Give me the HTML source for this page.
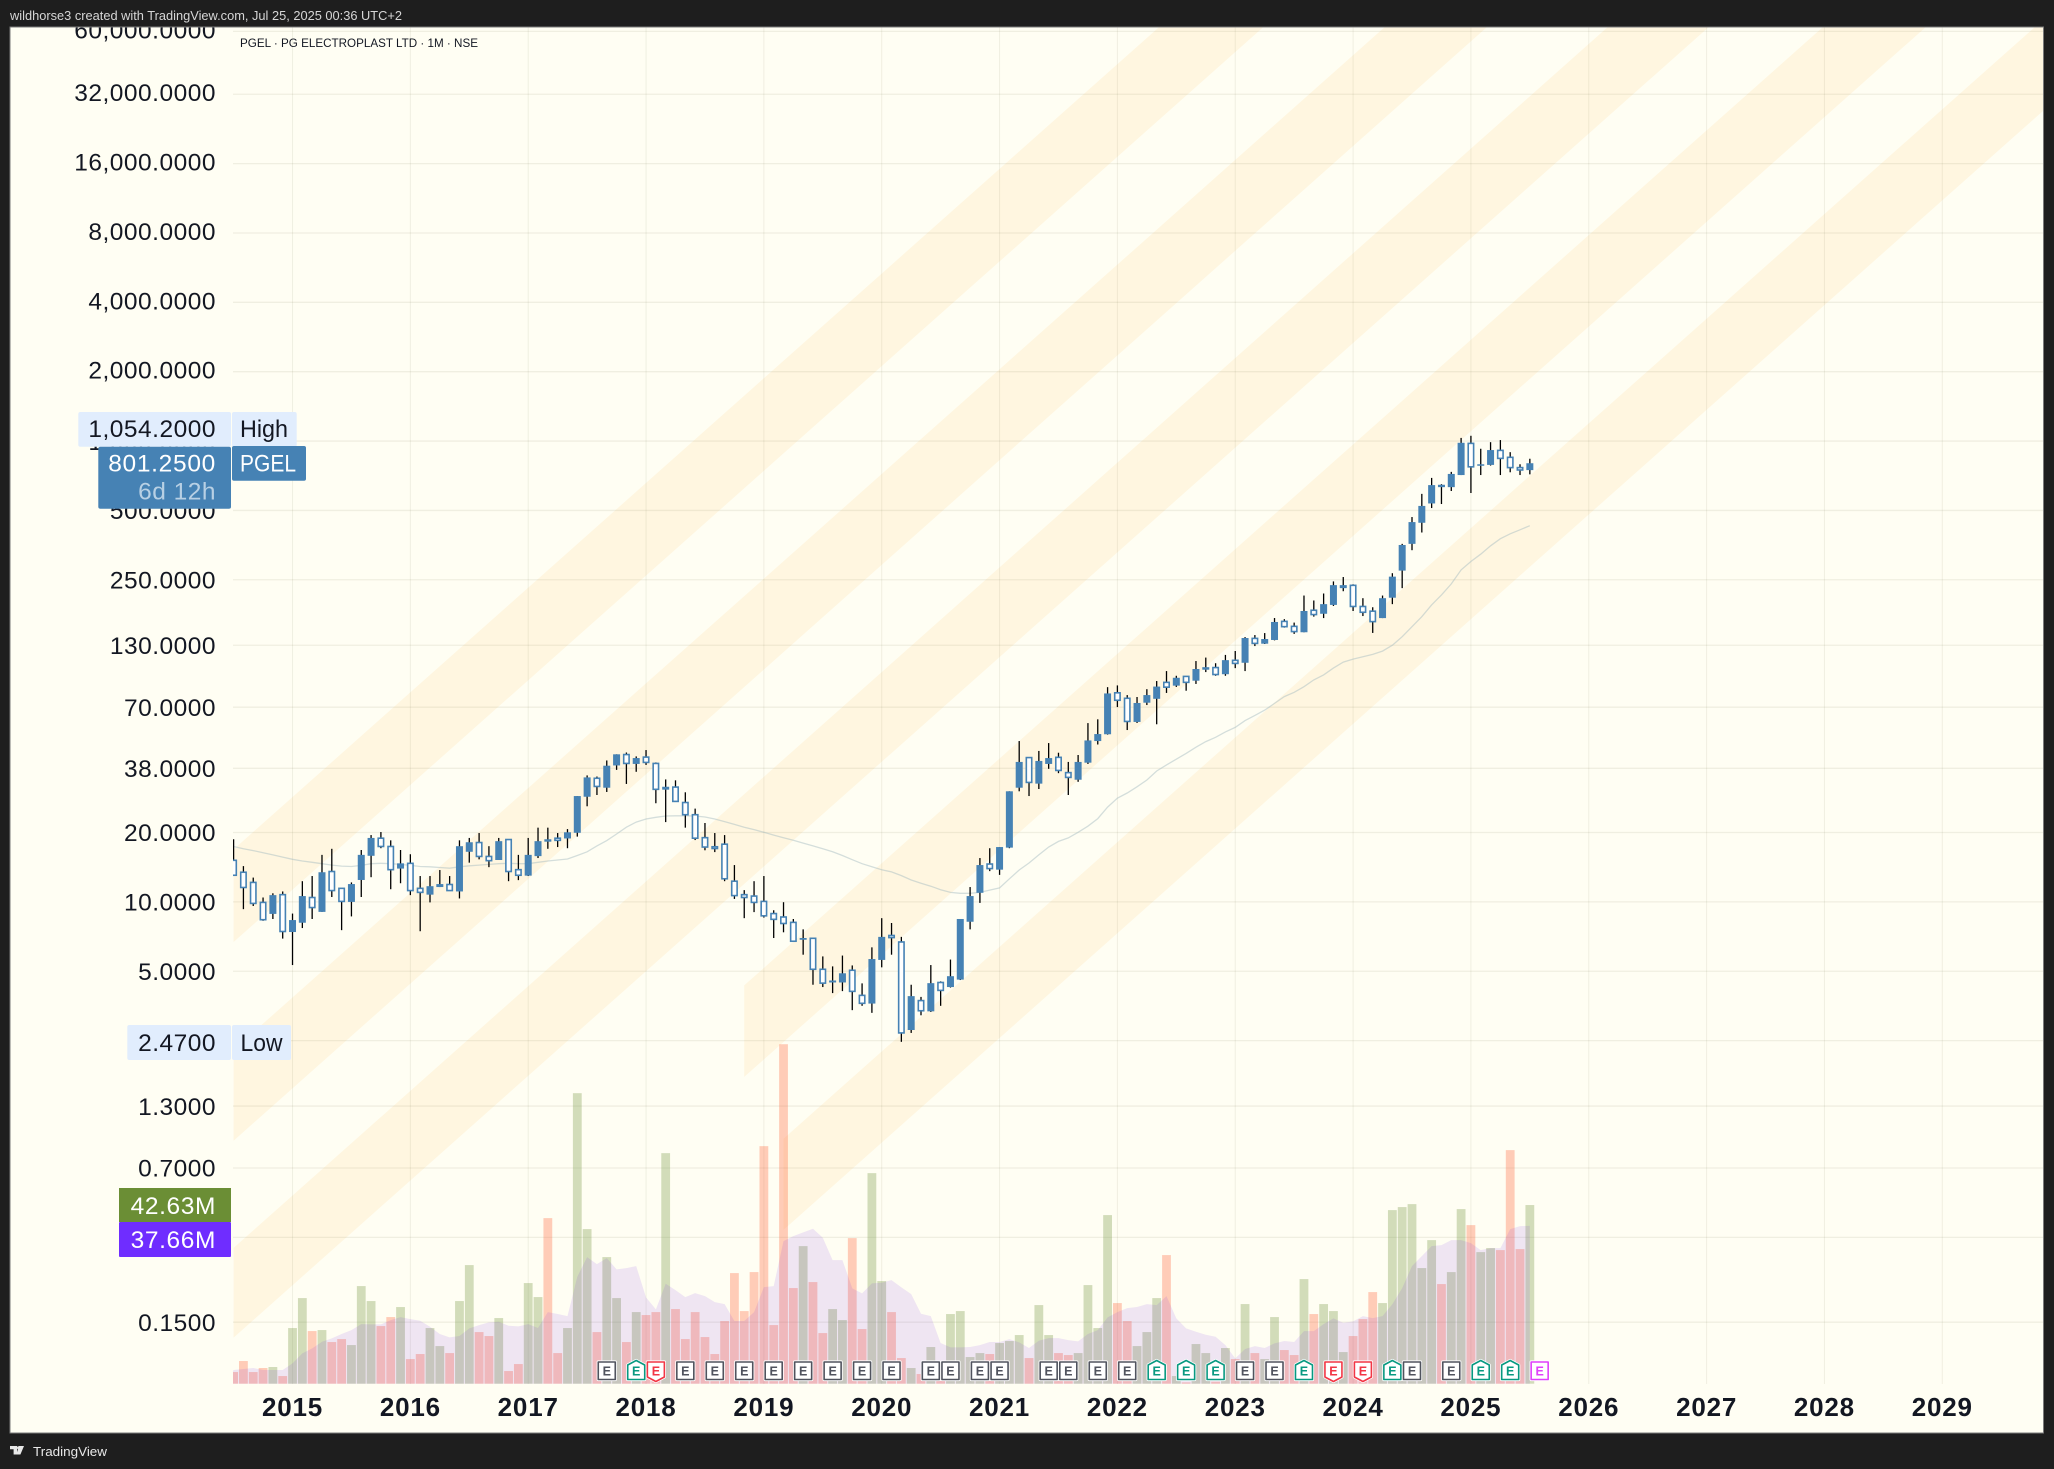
<!DOCTYPE html>
<html lang="en">
<head>
<meta charset="utf-8">
<title>PGEL monthly log chart</title>
<style>
html,body{margin:0;padding:0;background:#1e1e1e;width:2054px;height:1469px;overflow:hidden}
svg{display:block;font-family:"Liberation Sans",sans-serif}
</style>
</head>
<body>
<svg id="chart" xmlns="http://www.w3.org/2000/svg" width="2054" height="1469" viewBox="0 0 2054 1469">
  <defs>
    <clipPath id="paneClip"><rect x="233" y="27.5" width="1810" height="1356.5"/></clipPath>
    <clipPath id="frameClip"><rect x="10" y="27.5" width="2033" height="1405.5"/></clipPath>
  </defs>
  <rect x="0" y="0" width="2054" height="1469" fill="#1e1e1e"/>
  <text x="10" y="20" font-size="12.6" fill="#d6d6d6" textLength="392" lengthAdjust="spacingAndGlyphs">wildhorse3 created with TradingView.com, Jul 25, 2025 00:36 UTC+2</text>
  <rect x="10" y="27" width="2033.5" height="1406" fill="#fffef3" stroke="#7a7a7a" stroke-width="1"/>
  <g id="bandsLayer" clip-path="url(#paneClip)"></g>
  <g id="gridLayer" clip-path="url(#paneClip)"></g>
  <g id="volumeLayer" clip-path="url(#paneClip)"></g>
  <g id="volumeMaLayer" clip-path="url(#paneClip)"></g>
  <g id="maLayer" clip-path="url(#paneClip)"></g>
  <g id="candleLayer" clip-path="url(#paneClip)"></g>
  <g id="earningsLayer"></g>
  <g id="priceAxis" clip-path="url(#frameClip)"></g>
  <g id="timeAxis"></g>
  <text x="240" y="47" font-size="12" fill="#131722" textLength="238" lengthAdjust="spacingAndGlyphs">PGEL · PG ELECTROPLAST LTD · 1M · NSE</text>

  <g>
    <rect x="78.3" y="412" width="152.7" height="34.7" rx="2" fill="#e1edfd"/>
    <text x="216" y="437" text-anchor="end" font-size="24.5" letter-spacing="0.5" fill="#131722">1,054.2000</text>
    <rect x="232" y="412" width="64.7" height="34.7" rx="2" fill="#e1edfd"/>
    <text x="240" y="437" font-size="24.5" fill="#131722" textLength="48" lengthAdjust="spacingAndGlyphs">High</text>
  </g>
  <g>
    <rect x="98.3" y="446.7" width="132.7" height="62" rx="2" fill="#4682b4"/>
    <text x="216" y="471.5" text-anchor="end" font-size="24.5" letter-spacing="0.7" fill="#ffffff">801.2500</text>
    <text x="216" y="499.5" text-anchor="end" font-size="24.5" letter-spacing="0.5" fill="#b8d0e4">6d 12h</text>
    <rect x="232" y="446" width="74" height="34.7" rx="2" fill="#4682b4"/>
    <text x="240" y="471.5" font-size="24.5" fill="#ffffff" textLength="56" lengthAdjust="spacingAndGlyphs">PGEL</text>
  </g>
  <g>
    <rect x="127.3" y="1025" width="103.7" height="35" rx="2" fill="#e1edfd"/>
    <text x="216" y="1051" text-anchor="end" font-size="24.5" letter-spacing="0.5" fill="#131722">2.4700</text>
    <rect x="232" y="1025" width="59" height="35" rx="2" fill="#e1edfd"/>
    <text x="240.5" y="1051" font-size="24.5" fill="#131722" textLength="42" lengthAdjust="spacingAndGlyphs">Low</text>
  </g>
  <g>
    <rect x="119" y="1188" width="112" height="34" fill="#6b8e35"/>
    <text x="216" y="1214" text-anchor="end" font-size="24.5" letter-spacing="0.6" fill="#ffffff">42.63M</text>
  </g>
  <g>
    <rect x="119" y="1222" width="112" height="35" rx="1" fill="#6f2dff"/>
    <text x="216" y="1248" text-anchor="end" font-size="24.5" letter-spacing="0.6" fill="#ffffff">37.66M</text>
  </g>
  <g>
    <path d="M10 1446h7v8.5h-3.4v-5.2H10z M19 1446h5l-3.6 8.5h-4.2z" fill="#e8e8e8"/>
    <circle cx="18.6" cy="1447.8" r="1.6" fill="#e8e8e8"/>
    <text x="33" y="1456" font-size="13" fill="#e8e8e8" textLength="74" lengthAdjust="spacingAndGlyphs">TradingView</text>
  </g>
</svg>
<script>
// ---- price data, one entry per monthly bar from Jul 2014 to Jul 2025 ----
var opens=[15.15,13.45,12.15,9.95,8.87,10.75,7.4,8.12,10.45,9.05,13.55,11.45,10,12.45,15.85,18.9,17.4,13.95,14.7,11.45,10.75,11.6,11.9,11.1,16.5,18.1,15.75,15.2,18.65,13.8,13,15.8,18.55,18.9,18.85,19.95,28.6,34.4,31.3,39.1,43.6,39.7,42.5,39.9,30.7,31.5,27,23.9,19,17.35,17.8,12.3,10.75,10.6,10.05,8.9,8.6,8.15,6.85,6.95,5.1,4.47,4.47,5.05,3.93,3.62,5.6,7.15,6.7,2.78,3.73,3.35,4.47,4.27,4.6,8.2,10.95,14.6,13.8,17.2,31.3,42.3,32.6,39.7,42.4,36.4,33.9,40.2,49.9,53.4,80.8,76.5,60.4,73.2,76.1,89.7,86.8,95.2,91.2,101.8,104,97.3,111.8,109.1,139.2,132,137,165,157,148,184.4,178,194.5,230,236.5,191.5,182.7,170.5,209,274,358,442,536,641,631,712,977,787,788,911,850,767,748];
var highs=[18.7,14.3,12.75,10.45,10.9,11.1,8.9,12.3,12.95,16,17,11.45,12.15,16.8,19.5,20.1,18.5,16.8,16.1,12.95,12.95,13.75,12.95,18.5,18.95,19.9,17.45,18.95,18.7,16,18.95,21,21,19.9,20.7,28.8,35.4,35,41.1,43.7,44.5,42.8,45.6,40.3,34,33.7,29.9,25.4,22,19.9,19.5,14.45,11.25,12.3,12.95,9.2,9.97,8.43,7.6,6.97,5.8,5.25,5.85,5.3,4.43,6.35,8.5,8.1,7.05,4.37,3.87,5.32,4.52,5.62,8.43,11.6,15.5,17.1,17.3,30.2,49.9,42.5,45.2,48.9,44.4,40.5,43.4,59.7,62,85.5,87,79,77.5,83.8,90.9,100.4,95.8,95.2,111,114.9,108.6,118,122.7,141,143.9,146.8,170.6,168.7,163,213.6,203.3,218,246,257,239,208,190,213.6,267,358,468,590,692,650,735,1032,1054.2,926,989,1010,895,793,838];
var lows=[13,9.3,9.6,8.28,8.43,6.93,5.32,7.7,8.43,9.05,10.5,7.54,8.65,10.5,12.8,17.1,11.35,12.05,10.7,7.46,9.95,11.6,11.2,10.35,14.8,15.3,14.15,15.2,12.3,12.43,12.95,15.5,17,17.3,17.1,19.2,26,29.1,30,37.4,32.5,36.7,39.3,26.8,22.2,27.2,21,18.55,16.75,16.45,12.3,10.3,8.5,9.03,8.55,6.97,7.38,6.75,5.9,4.37,4.27,4.02,4.1,3.39,3.54,3.3,5.2,5.9,2.47,2.7,3.22,3.33,3.54,4.25,4.58,7.6,9.9,13.6,13.1,17.1,30.2,28.8,30.9,37.8,36.2,29.1,33.2,39.7,48.2,53.2,70.1,55.7,59.8,71.5,59,80.7,85.7,82.5,88.3,99.4,95.8,95.8,103.4,100.4,128.9,131.6,136.5,155,145.6,148,173,170.5,192.5,223,183,174,147,170.5,196,230,336,401,512,533,607,712,595,712,783,712,732,712,717];
var closes=[13.05,11.55,9.85,8.37,10.7,7.44,8.34,10.6,9.45,13.45,11.2,10.05,11.95,16,18.95,17.4,13.8,14.7,11.2,11,11.7,11.95,11.2,17.45,18.15,15.75,15.1,18.35,13.55,13.05,16,18.35,18.4,18.5,20.05,28.8,34.7,31.7,39,43.7,39.9,42.1,40.3,30.8,31.6,27.3,23.9,18.9,17.3,17.05,12.6,10.65,10.45,9.95,8.7,8.4,8.06,6.75,6.97,5.1,4.44,4.56,4.9,4.09,3.63,5.65,7.05,7,2.7,3.9,3.37,4.44,4.13,4.76,8.43,10.6,14.45,13.95,17.3,30.2,40.5,33,40.9,42.1,37.2,34.7,40.5,50.2,53.5,80.3,75,60.7,73,79,86,85.5,93.9,89.7,102.5,104.4,97,112,108.4,139.7,132.4,138.3,164,156.5,149,183,176.6,196,237,237,191.5,180.7,164.6,208,258,354,445,523,644,636,720,983,773,793,914,841,767,749,801.25];
var volumes=[2.78,5.41,2.78,3.74,3.98,1.83,13.28,20.43,12.56,12.8,9.94,10.65,9.22,23.29,19.72,13.75,15.9,18.29,5.88,7.08,13.28,8.98,7.31,19.72,28.3,12.32,11.37,15.66,3.02,4.69,24.01,20.67,39.51,7.31,13.28,69.32,36.89,12.32,30.21,20.43,9.94,17.09,16.38,17.09,55.01,17.81,10.65,17.09,11.13,7.08,14.95,26.39,17.33,26.63,56.68,13.99,81,22.82,32.83,24.25,12.08,17.81,15.18,34.74,13.04,50.24,24.49,17.09,6.12,3.74,2.31,8.75,0.72,16.62,17.33,6.36,7.31,7.08,9.7,10.18,11.61,6.12,18.76,11.61,7.31,6.84,7.31,23.53,13.28,40.23,19.24,14.95,8.98,12.32,20.43,30.69,1.83,0.32,9.46,7.31,0.48,8.51,5.88,19,7.31,5.88,15.9,8.03,6.84,24.96,16.62,19,17.33,7.55,11.37,15.42,21.86,19.24,41.42,42.14,42.85,27.59,34.26,23.77,26.63,41.66,37.84,31.4,32.36,31.88,55.73,32.12,42.63];
var volumeAverage=[3.26,3.5,3.74,3.26,3.26,3.26,4.85,7.23,8.43,10.02,10.81,11.85,12.8,14.23,14.15,14.15,15.18,15.9,15.42,15.03,13.59,11.85,11.05,11.37,13.2,13.99,14.63,14.79,13.83,13.67,14.23,13.28,17.09,16.62,16.14,25.52,30.21,28.54,29.97,27.27,27.59,28.06,20.59,17.73,23.85,22.34,20.67,21.62,20.91,19.48,19,14.95,14.95,17.09,23.06,23.29,34.03,35.22,36.09,36.97,34.82,29.49,29.49,22.74,21.54,23.93,24.09,24.72,22.98,21.39,16.7,16.14,9.7,8.67,8.67,8.75,9.22,9.94,9.94,10.65,9.86,8.51,10.26,10.89,10.89,10.41,10.1,11.85,12.8,15.82,17.09,18.05,18.29,19,18.76,20.91,15.58,13.2,12.4,11.69,11.21,9.22,6.04,8.27,8.98,8.51,9.62,10.18,9.94,12.56,12.56,14.23,15.58,14.55,14.87,16.14,15.66,16.14,19,22.82,28.06,30.45,32.83,33.07,34.26,34.26,33.55,31.88,32.36,32.36,36.89,37.6,37.66];
var movingAverage=[17.4,17,16.7,16.35,16,15.65,15.3,15.05,14.85,14.65,14.45,14.3,14.25,14.4,14.65,14.7,14.65,14.55,14.4,14.25,14.2,14.1,14,14.2,14.35,14.45,14.55,14.65,14.7,14.65,14.65,14.85,15.05,15.2,15.35,15.9,16.5,17.5,18.45,19.7,21.1,22.2,22.9,23.3,23.6,23.65,23.65,23.6,23.35,22.9,22.3,21.7,21.1,20.6,20.05,19.5,19,18.5,18,17.5,17,16.5,15.9,15.25,14.65,14.2,13.8,13.5,13,12.45,12.05,11.7,11.3,11,10.9,10.9,11,11.25,11.5,12.6,13.75,14.75,16,17.3,18.3,18.95,20.05,21.3,23,25.8,28.2,29.7,31.6,33.8,37,39.3,41.6,44.1,46.9,49.6,51.8,54.7,57.2,61.2,64.5,68,72.7,77.8,81.2,85.9,91.9,96.6,103.4,109.8,113.2,115.8,118.6,122.6,130,141.6,156.4,172.8,194.5,215,240,276,300,323,351,377,396,412,429];
// ---- earnings events ----
var earningsBars=[38,41,43,46,49,52,55,58,61,64,67,71,73,76,78,83,85,88,91,94,97,100,103,106,109,112,115,118,120,124,127,130,133];
var earningsKinds=['gray','teal','red','gray','gray','gray','gray','gray','gray','gray','gray','gray','gray','gray','gray','gray','gray','gray','gray','teal','teal','teal','gray','gray','teal','red','red','teal','gray','gray','teal','teal','future'];
// ---- axis labels ----
var priceTicks=[60000,32000,16000,8000,4000,2000,1000,500,250,130,70,38,20,10,5,2.5,1.3,0.7,0.35,0.15];
var priceTickLabels=['60,000.0000','32,000.0000','16,000.0000','8,000.0000','4,000.0000','2,000.0000','1,000.0000','500.0000','250.0000','130.0000','70.0000','38.0000','20.0000','10.0000','5.0000','2.5000','1.3000','0.7000','0.3500','0.1500'];
var yearLabels=[2015,2016,2017,2018,2019,2020,2021,2022,2023,2024,2025,2026,2027,2028,2029];
// ---- channel drawing: start bar, prices at the start bar, growth per bar ----
var bandStartBars=[0,0,0,52,56];
var bandUpperPrices=[16.9,2.28,0.315,4.34,0.937];
var bandLowerPrices=[6.7,0.92,0.1285,1.74,0.377];
var bandGrowthPerBar=[1.0911];
var bandEndBar=[200];

var NS='http://www.w3.org/2000/svg';
function xOf(i){return 233.6+9.82*i;}
function yOf(price){return 901.9-100.07*Math.log(price/10);}
function yVol(m){return 1383.7-m/0.2386;}
function yearX(year){return xOf((year-2015)*12+6);}
function make(tag,attrs,parent){
  var e=document.createElementNS(NS,tag);
  for(var k in attrs){e.setAttribute(k,attrs[k]);}
  parent.appendChild(e);
  return e;
}
var bandsLayer=document.getElementById('bandsLayer');
var gridLayer=document.getElementById('gridLayer');
var volumeLayer=document.getElementById('volumeLayer');
var volumeMaLayer=document.getElementById('volumeMaLayer');
var maLayer=document.getElementById('maLayer');
var candleLayer=document.getElementById('candleLayer');
var earningsLayer=document.getElementById('earningsLayer');
var priceAxis=document.getElementById('priceAxis');
var timeAxis=document.getElementById('timeAxis');

// channel bands
bandStartBars.forEach(function(start,b){
  var end=bandEndBar[0];
  var k=Math.pow(bandGrowthPerBar[0],end-start);
  var pts=[[xOf(start),yOf(bandUpperPrices[b])],[xOf(end),yOf(bandUpperPrices[b]*k)],[xOf(end),yOf(bandLowerPrices[b]*k)],[xOf(start),yOf(bandLowerPrices[b])]];
  var p=make('polygon',{points:pts.map(function(q){return q[0].toFixed(1)+','+q[1].toFixed(1);}).join(' '),fill:'#fff6e0'},bandsLayer);
  
  
});

// grid
priceTicks.forEach(function(v){
  var y=yOf(v);
  var l=make('line',{x1:232,x2:2043,y1:y,y2:y,stroke:'rgba(110,110,70,0.10)','stroke-width':1.3},gridLayer);
  
  
});
yearLabels.forEach(function(yr){
  var x=yearX(yr);
  var l=make('line',{x1:x,x2:x,y1:27,y2:1384,stroke:'rgba(110,110,70,0.10)','stroke-width':1},gridLayer);
  
  
});

// volume bars
volumes.forEach(function(m,i){
  var up=closes[i]>=opens[i];
  var top=yVol(m);
  var r=make('rect',{x:xOf(i)-4.4,y:top,width:8.8,height:1383.7-top,fill:up?'rgba(107,142,53,0.30)':'rgba(255,91,46,0.30)'},volumeLayer);
  
  
});

// volume average area
var areaPts=volumeAverage.map(function(m,i){return xOf(i).toFixed(1)+','+yVol(m).toFixed(1);});
areaPts.push(xOf(volumeAverage.length-1).toFixed(1)+',1383.7');
areaPts.push(xOf(0).toFixed(1)+',1383.7');
areaPts.unshift(xOf(-1).toFixed(1)+',1383.7');
var area=make('polygon',{points:areaPts.join(' '),fill:'rgba(105,30,240,0.11)'},volumeMaLayer);



// moving average
var maLine=make('polyline',{points:movingAverage.map(function(v,i){return xOf(i).toFixed(1)+','+yOf(v).toFixed(1);}).join(' '),fill:'none',stroke:'rgba(160,185,190,0.45)','stroke-width':1.3},maLayer);



// candles
opens.forEach(function(o,i){
  var c=closes[i],x=xOf(i),up=c>=o;
  var yTop=yOf(Math.max(o,c)),yBot=yOf(Math.min(o,c));
  var g=make('g',{},candleLayer);
  
  
  var w=make('line',{x1:x,x2:x,y1:yOf(highs[i]),y2:yOf(lows[i]),stroke:'#000000','stroke-width':1.3},g);
  
  
  var b;
  if(up){
    b=make('rect',{x:x-3.5,y:yTop,width:7,height:Math.max(yBot-yTop,1.5),fill:'#4682b4'},g);
  }else{
    b=make('rect',{x:x-2.7,y:yTop,width:5.4,height:Math.max(yBot-yTop,0.4),fill:'#ffffff',stroke:'#4682b4','stroke-width':1.6},g);
  }
  
  
});

// earnings markers
var earningsColors={gray:'#50535e',teal:'#089981',red:'#f23645',future:'#e040fb'};
earningsBars.forEach(function(bar,n){
  var kind=earningsKinds[n],x=xOf(bar),y=1371,col=earningsColors[kind],d;
  if(kind==='teal'){
    d='M'+x+' '+(y-10.5)+'L'+(x+8.5)+' '+(y-6)+'V'+(y+8.5)+'H'+(x-8.5)+'V'+(y-6)+'Z';
  }else if(kind==='red'){
    d='M'+(x-8.5)+' '+(y-9)+'H'+(x+8.5)+'V'+(y+6)+'L'+x+' '+(y+10.5)+'L'+(x-8.5)+' '+(y+6)+'Z';
  }else{
    d='M'+(x-8.5)+' '+(y-9)+'H'+(x+8.5)+'V'+(y+8.5)+'H'+(x-8.5)+'Z';
  }
  var g=make('g',{},earningsLayer);
  
  
  var halo=make('path',{d:d,fill:'#ffffff',stroke:'#ffffff','stroke-width':3.2,'stroke-linejoin':'round'},g);
  
  
  var shape=make('path',{d:d,fill:'#ffffff',stroke:col,'stroke-width':1.6,'stroke-linejoin':'round'},g);
  
  
  var t=make('text',{x:x,y:y+4.6,'text-anchor':'middle','font-size':12.5,'font-weight':'bold',fill:col},g);
  t.textContent='E';
  
  
});

// price axis
priceTicks.forEach(function(v,i){
  var nudge=v>=2000?-1.7:0;
  var t=make('text',{x:216,y:yOf(v)+8.7+nudge,'text-anchor':'end','font-size':24.5,'letter-spacing':0.5,fill:'#131722'},priceAxis);
  t.textContent=priceTickLabels[i];
  
  
});

// time axis
yearLabels.forEach(function(yr){
  var t=make('text',{x:yearX(yr),y:1416,'text-anchor':'middle','font-size':26,'font-weight':'bold','letter-spacing':0.8,fill:'#131722'},timeAxis);
  t.textContent=String(yr);
  
  
});
</script>
</body>
</html>
